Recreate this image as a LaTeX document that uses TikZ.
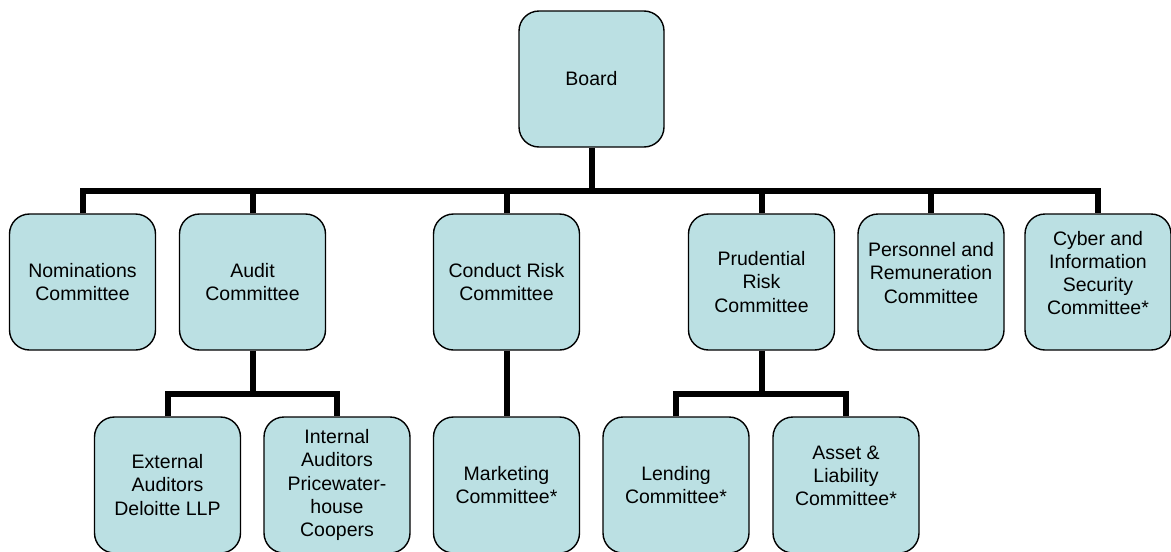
\documentclass[tikz,border=0pt]{standalone}
\usepackage{fontspec}
\setmainfont{Liberation Sans}
\definecolor{boxfill}{HTML}{BBE0E3}
\begin{document}
\begin{tikzpicture}[x=1pt,y=-1pt,
  orgbox/.style={draw=black, line width=1.4pt, fill=boxfill, rounded corners=20pt,
    minimum width=146pt, minimum height=136pt, inner sep=0pt, align=center,
    font=\fontsize{19.5}{23.3}\selectfont},
  boxtext/.style={align=center, inner sep=0pt, font=\fontsize{19.5}{23.3}\selectfont},
  conn/.style={line width=6pt, line join=miter}]
\useasboundingbox (0,0) rectangle (1171,552);

% top level
\node[orgbox, minimum width=145pt] (board) at (591.5,79) {Board};

% committees
\node[orgbox] (nom)     at (82.5,282)  {Nominations\\Committee};
\node[orgbox] (audit)   at (252.5,282) {Audit\\Committee};
\node[orgbox] (conduct) at (506.5,282) {Conduct Risk\\Committee};
\node[orgbox] (prud)    at (761.5,282) {Prudential\\Risk\\Committee};
\node[orgbox] (pers)    at (931,282)   {};
\node[boxtext, yshift=9pt] (perstext) at (pers.center) {Personnel and\\Remuneration\\Committee};
\node[orgbox] (cyber)   at (1098,282)  {};
\node[boxtext, yshift=9pt] (cybertext) at (cyber.center) {Cyber and\\Information\\Security\\Committee*};

% sub-committees
\node[orgbox] (ext)   at (167.5,485) {External\\Auditors\\Deloitte LLP};
\node[orgbox] (int)   at (337,485)   {Internal\\Auditors\\Pricewater-\\house\\Coopers};
\node[orgbox] (mkt)   at (506.5,485) {Marketing\\Committee*};
\node[orgbox] (lend)  at (676,485)   {Lending\\Committee*};
\node[orgbox] (asset) at (846,485)   {};
\node[boxtext, yshift=9pt] (assettext) at (asset.center) {Asset \&\\Liability\\Committee*};

% bus lines
\coordinate (bus) at (0,191);
\coordinate (auditbus) at (0,394);
\coordinate (prudbus) at (0,394);

\draw[conn] (board.south) -- (board.south |- bus);
\draw[conn] (nom.north) |- (cyber.north |- bus) -- (cyber.north);
\foreach \n in {audit,conduct,prud,pers}
  \draw[conn] (\n.north) -- (\n.north |- bus);

\draw[conn] (audit.south) -- (audit.south |- auditbus);
\draw[conn] (ext.north) |- (int.north |- auditbus) -- (int.north);

\draw[conn] (conduct.south) -- (mkt.north);

\draw[conn] (prud.south) -- (prud.south |- prudbus);
\draw[conn] (lend.north) |- (asset.north |- prudbus) -- (asset.north);
\end{tikzpicture}
\end{document}
